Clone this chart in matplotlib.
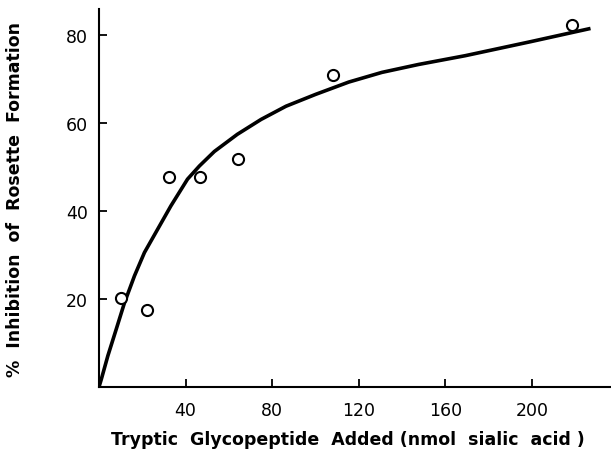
import matplotlib
matplotlib.use("Agg")
import matplotlib.pyplot as plt

# Observed data points
obs_x = [10.1, 22.0, 32.2, 46.9, 64.4, 108.0, 218.4]
obs_y = [20.2, 17.5, 47.7, 47.7, 51.8, 70.9, 82.3]

# Fitted curve
curve_x = [0.0, 1.1, 4.1, 8.0, 11.8, 16.4, 21.0, 27.1, 33.2, 40.9, 46.4,
           53.3, 63.9, 74.9, 86.4, 100.1, 115.4, 130.7, 147.6, 169.2,
           199.5, 227.1]
curve_y = [0.0, 1.8, 7.1, 13.2, 19.2, 25.3, 30.6, 35.9, 41.2, 47.3, 50.3,
           53.6, 57.5, 60.9, 63.9, 66.6, 69.4, 71.6, 73.4, 75.4,
           78.6, 81.6]

x_ticks = [40, 80, 120, 160, 200]
y_ticks = [20, 40, 60, 80]

fig = plt.figure(figsize=(6.11, 4.60), dpi=100)
ax = fig.add_axes([0.162, 0.1565, 0.836, 0.8215])

ax.plot(curve_x, curve_y, color="black", linewidth=2.6, solid_capstyle="butt",
        solid_joinstyle="round")
ax.plot(obs_x, obs_y, linestyle="none", marker="o", markersize=8,
        markerfacecolor="white", markeredgecolor="black", markeredgewidth=1.5)

ax.set_xlim(0, 236)
ax.set_ylim(0, 86)
ax.set_xticks(x_ticks)
ax.set_yticks(y_ticks)
ax.spines["top"].set_visible(False)
ax.spines["right"].set_visible(False)
ax.spines["left"].set_linewidth(1.5)
ax.spines["bottom"].set_linewidth(1.5)
ax.tick_params(axis="both", direction="in", length=6, width=1.3, labelsize=12.5)
ax.tick_params(axis="x", pad=10)
ax.tick_params(axis="y", pad=8)

ax.set_xlabel("Tryptic  Glycopeptide  Added (nmol  sialic  acid )",
              fontsize=12.5, fontweight="bold", labelpad=9)
ax.xaxis.set_label_coords(0.488, -0.115)
ax.set_ylabel("%  Inhibition  of  Rosette  Formation",
              fontsize=12.5, fontweight="bold", labelpad=30)

fig.savefig("out.png", dpi=100)
